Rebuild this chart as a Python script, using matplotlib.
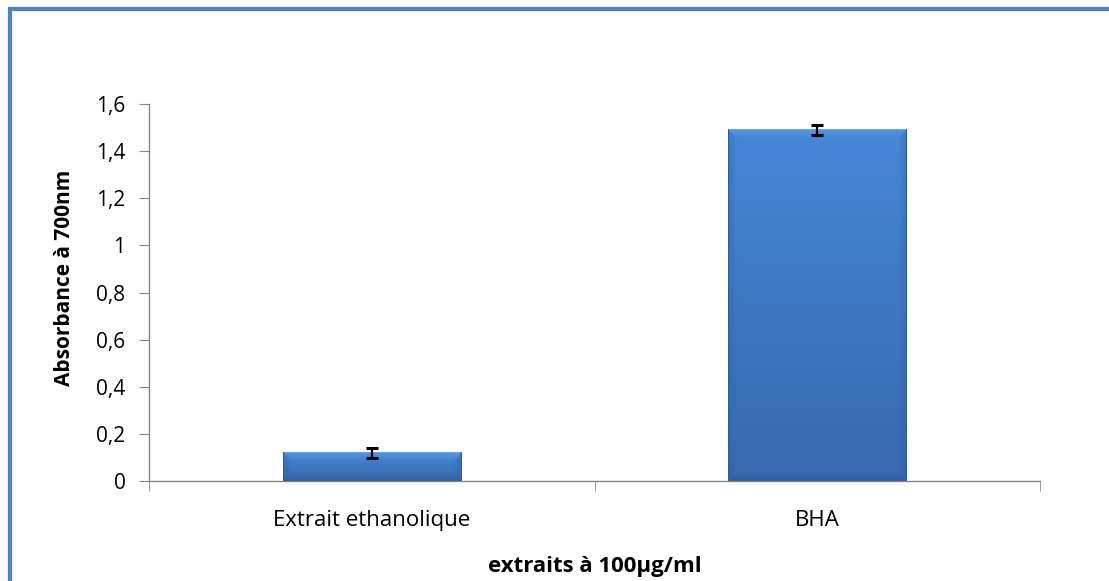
import matplotlib
matplotlib.use("Agg")
import matplotlib.pyplot as plt
import numpy as np
from matplotlib.patches import Rectangle
from matplotlib.colors import to_rgb

categories = ["Extrait ethanolique", "BHA"]
values = [0.12, 1.49]
errors = [0.022, 0.02]
yticks = [0, 0.2, 0.4, 0.6, 0.8, 1, 1.2, 1.4, 1.6]
ytick_labels = ["0", "0,2", "0,4", "0,6", "0,8", "1", "1,2", "1,4", "1,6"]

plt.rcParams['font.family'] = ['Open Sans', 'DejaVu Sans']

W, H = 1109, 581
fig = plt.figure(figsize=(W/100, H/100), dpi=100)
ax = fig.add_axes([149/W, 1-481/H, (1040-149)/W, (481-104)/H])

ax.set_xlim(-0.5, 1.5)
ax.set_ylim(0, 1.6)

x = np.arange(len(categories))
bar_w = 0.4
bars = ax.bar(x, values, width=bar_w, color="#3f7ccc", edgecolor="none", zorder=2)

def bevel_image(hp, wp, b=9):
    hp = max(int(round(hp)), 2)
    wp = max(int(round(wp)), 2)
    rows = np.arange(hp)[:, None] + 0.5
    cols = np.arange(wp)[None, :] + 0.5
    t = rows / hp
    top_c = np.array(to_rgb("#4787d6"))
    bot_c = np.array(to_rgb("#3769ad"))
    img = top_c[None, None, :] * (1 - t[..., None]) + bot_c[None, None, :] * t[..., None]
    img = np.broadcast_to(img, (hp, wp, 3)).copy()
    d_top = rows * np.ones_like(cols)
    d_bot = (hp - rows) * np.ones_like(cols)
    d_l = np.ones_like(rows) * cols
    d_r = np.ones_like(rows) * (wp - cols)
    bb = min(b, hp / 2.5)
    dmin = np.minimum(np.minimum(d_top, d_bot), np.minimum(d_l, d_r))
    band = dmin < bb
    top_band = band & (d_top == dmin)
    bot_band = band & (d_bot == dmin) & ~top_band
    side_band = band & ~top_band & ~bot_band
    light = np.array(to_rgb("#5c9ce6"))
    dark = np.array(to_rgb("#2d5a98"))
    f = (1 - dmin / bb)
    ft = f[top_band][:, None]
    img[top_band] = img[top_band] * (1 - 0.7 * ft) + light * 0.7 * ft
    fb = f[bot_band][:, None]
    img[bot_band] = img[bot_band] * (1 - 0.6 * fb) + dark * 0.6 * fb
    fs = f[side_band][:, None]
    img[side_band] = img[side_band] * (1 - 0.35 * fs) + dark * 0.35 * fs
    img[0, :] = to_rgb("#6aa6ea")
    img[:, 0] = to_rgb("#2f5c99")
    img[:, -1] = to_rgb("#2f5c99")
    img[-1, :] = to_rgb("#2a5590")
    return img

for b in bars:
    x0, y0 = b.get_x(), b.get_y()
    w, h = b.get_width(), b.get_height()
    p0 = ax.transData.transform((x0, y0))
    p1 = ax.transData.transform((x0 + w, y0 + h))
    img = bevel_image(p1[1] - p0[1], p1[0] - p0[0])
    ax.imshow(img, extent=[x0, x0 + w, y0, y0 + h], origin="upper", aspect="auto",
              zorder=2.5, interpolation="nearest")

ax.set_xlim(-0.5, 1.5)
ax.set_ylim(0, 1.6)

ax.errorbar(x, values, yerr=errors, fmt="none", ecolor="black", elinewidth=1.6,
            capsize=4, capthick=2.2, zorder=3)

ax.set_yticks(yticks)
ax.set_yticklabels(ytick_labels, fontsize=15)
ax.set_xticks(x)
ax.set_xticklabels(categories, fontsize=16)
ax.tick_params(axis="x", length=0, pad=21)
ax.set_xticks([-0.5, 0.5, 1.5], minor=True)
ax.tick_params(axis="x", which="minor", length=7, color="#868686", direction="out")
ax.tick_params(axis="y", length=7, color="#868686", direction="out", pad=10)

for s in ["top", "right"]:
    ax.spines[s].set_visible(False)
for s in ["left", "bottom"]:
    ax.spines[s].set_color("#868686")
    ax.spines[s].set_linewidth(1.0)
    ax.spines[s].set_zorder(4)

ax.set_ylabel("Absorbance à 700nm", fontsize=15, fontweight="bold")
ax.yaxis.set_label_coords(-0.083, 0.54)
ax.set_xlabel("extraits à 100µg/ml", fontsize=16, fontweight="bold", labelpad=18)

border = Rectangle((10/W, -0.2), 1.5, 1 - 8.5/H + 0.2, transform=fig.transFigure,
                   fill=False, edgecolor="#4f81bd", linewidth=3.0, zorder=10)
fig.patches.append(border)

fig.savefig("out.png", dpi=100)
